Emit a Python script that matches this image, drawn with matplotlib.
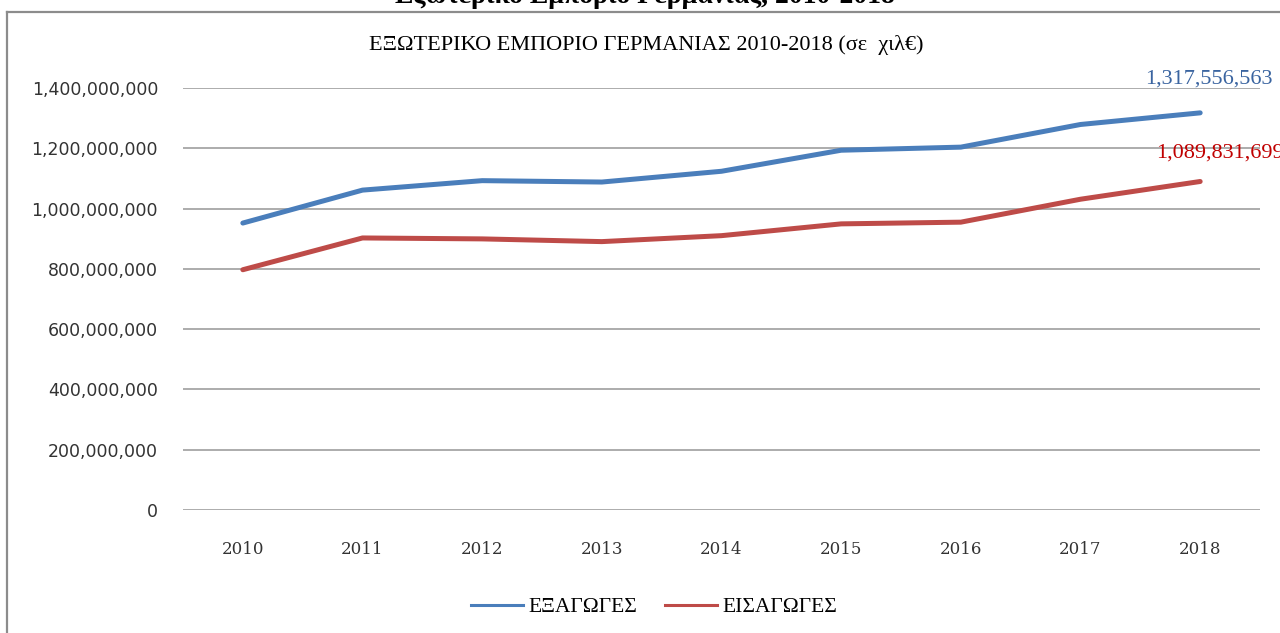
import numpy as np
import matplotlib.pyplot as plt
from matplotlib.ticker import FuncFormatter
from matplotlib.lines import Line2D

# data (thousand euro)
years = ['2010', '2011', '2012', '2013', '2014', '2015', '2016', '2017', '2018']
exports = [951959000, 1061225000, 1092627000, 1088025000, 1123746000,
           1193555000, 1203833000, 1278958000, 1317556563]
imports = [797097000, 902523000, 899405000, 890393000, 910145000,
           949245000, 954917000, 1031013000, 1089831699]
labels = ['ΕΞΑΓΩΓΕΣ', 'ΕΙΣΑΓΩΓΕΣ']

blue = '#4a7ebb'
red = '#be4b48'
serif = ['Liberation Serif', 'DejaVu Serif']

W, H = 1280, 633
fig = plt.figure(figsize=(W / 100, H / 100), dpi=100)

# outer frame (left and top edge of the chart box)
fig.add_artist(Line2D([7 / W, 7 / W], [0, 1 - 12 / H], color='#8c8c8c', lw=1.6))
fig.add_artist(Line2D([7 / W, 1], [1 - 12 / H, 1 - 12 / H], color='#8c8c8c', lw=1.6))

# document title, cut off at the top
fig.text(645 / W, 1 - 3 / H, 'Εξωτερικό Εμπόριο Γερμανίας, 2010-2018',
         ha='center', va='baseline', fontsize=20, fontweight='bold', family=serif)

# chart title
fig.text(646 / W, 1 - 45 / H, 'ΕΞΩΤΕΡΙΚΟ ΕΜΠΟΡΙΟ ΓΕΡΜΑΝΙΑΣ 2010-2018 (σε  χιλ€)',
         ha='center', va='center', fontsize=16, family=serif)

ax = fig.add_axes([183 / W, 1 - 510 / H, (1260 - 183) / W, (510 - 88) / H])
x = np.arange(len(years))
ax.plot(x, exports, color=blue, lw=3.6, solid_capstyle='round')
ax.plot(x, imports, color=red, lw=3.6, solid_capstyle='round')

ax.set_xlim(-0.5, len(years) - 0.5)
ax.set_ylim(0, 1.4e9)
ax.set_yticks(np.arange(0, 1.4e9 + 1, 2e8))
ax.yaxis.set_major_formatter(FuncFormatter(lambda v, p: f'{int(v):,}'))
ax.set_xticks(x)
ax.set_xticklabels(years, family=['DejaVu Serif'], fontsize=12)
for t in ax.get_yticklabels():
    t.set_family('DejaVu Sans')
    t.set_fontsize(12.5)
    t.set_color('#333333')
ax.tick_params(axis='y', length=0, pad=18)
ax.tick_params(axis='x', length=0, pad=22, colors='#333333')
ax.grid(axis='y', color='#a6a6a6', lw=1.3)
ax.set_axisbelow(True)
for s in ax.spines.values():
    s.set_visible(False)

ax.annotate(f'{exports[-1]:,}', (x[-1], exports[-1]), xytext=(6, 24),
            textcoords='offset points', ha='center', va='center',
            fontsize=16, family=serif, color='#3a64a0', annotation_clip=False)
ax.annotate(f'{imports[-1]:,}', (x[-1], imports[-1]), xytext=(14, 20.5),
            textcoords='offset points', ha='center', va='center',
            fontsize=16, family=serif, color='#c00000', annotation_clip=False)

h1 = Line2D([], [], color=blue, lw=2.2)
h2 = Line2D([], [], color=red, lw=2.2)
fig.legend([h1, h2], labels, loc='center', bbox_to_anchor=(654 / W, 1 - 607 / H),
           ncol=2, frameon=False, prop={'family': serif, 'size': 15.5},
           handlelength=2.4, handletextpad=0.25, columnspacing=1.3)

fig.savefig('out.png', dpi=100)
